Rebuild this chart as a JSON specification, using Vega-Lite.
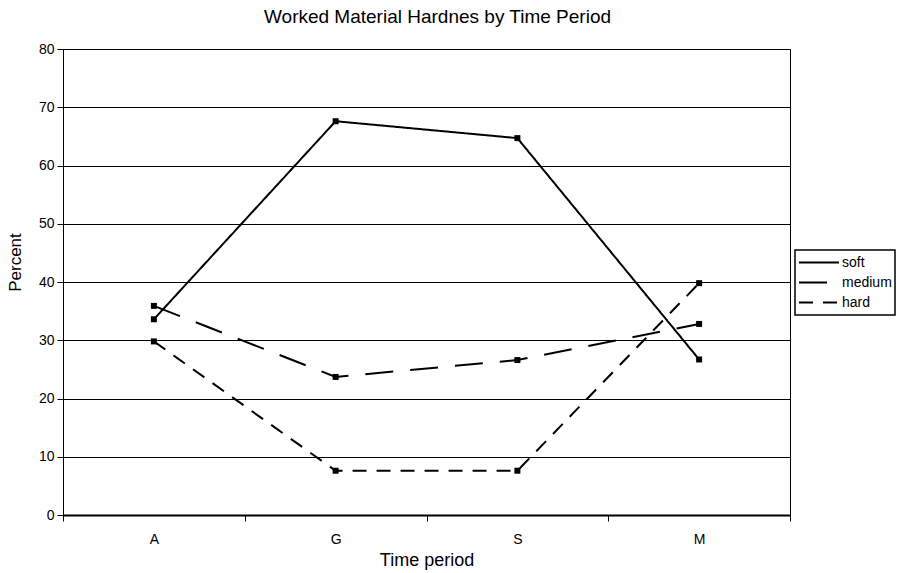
{
  "$schema": "https://vega.github.io/schema/vega-lite/v6.json",
  "width": 727,
  "height": 466,
  "autosize": {"type": "none"},
  "padding": {"left": 63, "top": 49, "right": 114, "bottom": 58},
  "background": "white",
  "title": {"text": "Worked Material Hardnes by Time Period", "font": "Liberation Sans", "fontSize": 19, "fontWeight": "normal", "color": "black", "anchor": "middle", "frame": "group", "offset": 15, "dx": 11},
  "config": {"view": {"stroke": "black", "strokeWidth": 1}, "font": "Liberation Sans", "legend": {"strokeWidth": 1.5}},
  "data": {"values": [
    {"series": "soft", "period": "A", "percent": 33.6},
    {"series": "soft", "period": "G", "percent": 67.6},
    {"series": "soft", "period": "S", "percent": 64.7},
    {"series": "soft", "period": "M", "percent": 26.7},
    {"series": "medium", "period": "A", "percent": 35.9},
    {"series": "medium", "period": "G", "percent": 23.7},
    {"series": "medium", "period": "S", "percent": 26.6},
    {"series": "medium", "period": "M", "percent": 32.8},
    {"series": "hard", "period": "A", "percent": 29.8},
    {"series": "hard", "period": "G", "percent": 7.6},
    {"series": "hard", "period": "S", "percent": 7.6},
    {"series": "hard", "period": "M", "percent": 39.8}
  ]},
  "encoding": {
    "x": {"field": "period", "type": "ordinal", "sort": ["A", "G", "S", "M"],
      "scale": {"type": "band", "paddingInner": 0, "paddingOuter": 0},
      "axis": {"title": "Time period", "titleFont": "Liberation Sans", "titleFontSize": 18, "titleFontWeight": "normal", "titleColor": "black", "titleY": 50, "titleBaseline": "alphabetic",
        "labelAngle": 0, "labelFont": "Liberation Sans", "labelFontSize": 14, "labelColor": "black", "labelBaseline": "alphabetic", "labelPadding": 22,
        "tickBand": "extent", "tickSize": 6, "tickColor": "black", "domainColor": "black", "domainWidth": 2, "grid": false}},
    "y": {"field": "percent", "type": "quantitative", "scale": {"domain": [0, 80], "nice": false},
      "axis": {"title": "Percent", "titleFont": "Liberation Sans", "titleFontSize": 17, "titleFontWeight": "normal", "titleColor": "black", "titleX": -43, "titleY": 213, "titleAngle": -90, "titleBaseline": "alphabetic", "titleAlign": "center",
        "values": [0, 10, 20, 30, 40, 50, 60, 70, 80], "grid": true, "gridColor": "black", "gridWidth": 1, "gridOpacity": 1,
        "domainColor": "black", "domainWidth": 1, "tickColor": "black", "tickSize": 6, "labelFont": "Liberation Sans", "labelFontSize": 14, "labelColor": "black", "labelPadding": 3}}
  },
  "layer": [
    {"mark": {"type": "line", "strokeWidth": 2, "color": "black"},
      "encoding": {
        "strokeDash": {"field": "series", "type": "nominal",
          "scale": {"domain": ["soft", "medium", "hard"], "range": [[1, 0], [28, 17], [14, 10]]},
          "legend": {"orient": "none", "legendX": 732, "legendY": 201, "title": null, "strokeColor": "black", "fillColor": "white", "padding": 3,
            "symbolType": "stroke", "symbolSize": 1600, "symbolStrokeWidth": 2, "symbolStrokeColor": "black", "clipHeight": 19,
            "labelFont": "Liberation Sans", "labelFontSize": 14, "labelColor": "black", "labelOffset": 2, "rowPadding": 1}}
      }},
    {"mark": {"type": "square", "size": 36, "color": "black", "opacity": 1, "filled": true},
      "encoding": {"detail": {"field": "series"}}}
  ]
}
